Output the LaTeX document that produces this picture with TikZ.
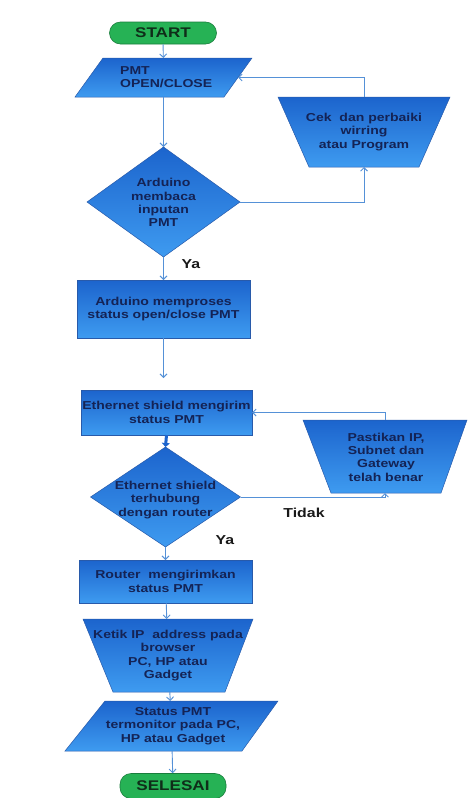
\documentclass[tikz,border=0pt]{standalone}
\usepackage{fontspec}
\setmainfont{Liberation Sans}[FakeStretch=1.22]
\usetikzlibrary{arrows.meta,backgrounds}
\definecolor{bdark}{RGB}{28,100,205}
\definecolor{blight}{RGB}{62,155,240}
\definecolor{bedge}{RGB}{40,90,170}
\definecolor{txtc}{RGB}{20,35,85}
\definecolor{linec}{RGB}{85,145,215}
\definecolor{gfill}{RGB}{38,178,85}
\definecolor{gedge}{RGB}{25,125,60}
\definecolor{gtext}{RGB}{15,45,25}
\begin{document}
\begin{tikzpicture}[x=1pt,y=-1pt,
  blk/.style={top color=bdark,bottom color=blight,draw=bedge,line width=0.5pt},
  bb/.style={rectangle,inner sep=0pt,outer sep=0pt,text=txtc,align=center,font=\fontsize{11.5}{13.3}\selectfont\bfseries},
  rectbox/.style={bb,blk},
  txt/.style={text=txtc,align=center,inner sep=0pt,font=\fontsize{11.5}{13.3}\selectfont\bfseries},
  pill/.style={rectangle,rounded corners=11pt,fill=gfill,draw=gedge,line width=0.6pt,text=gtext,font=\fontsize{14}{16}\selectfont\bfseries,inner sep=0pt},
  lbl/.style={text=black!90,inner sep=0pt,font=\fontsize{13}{15}\selectfont\bfseries},
  arr/.style={draw=linec,line width=0.9pt,-{Straight Barb[length=3.5pt,width=7pt]}},
]
\useasboundingbox (0,0) rectangle (467,798);
% shape frames
\node[pill,minimum width=107,minimum height=22] (start) at (163,33) {START};
\node[bb,minimum width=177,minimum height=39] (pmt) at (163.5,77.5) {};
\node[txt,align=left,anchor=west] (pmtt) at (120,77.5) {PMT\\OPEN/CLOSE};
\node[bb,minimum width=172,minimum height=70] (cek) at (364,132) {Cek\ \ dan perbaiki\\wirring\\atau Program};
\node[bb,minimum width=153,minimum height=110] (d1) at (163.5,202) {};
\node[txt] (d1t) at (163.5,202.5) {Arduino\\membaca\\inputan\\PMT};
\node[rectbox,minimum width=173,minimum height=58] (proc) at (163.5,309) {Arduino memproses\\status open/close PMT};
\coordinate (gap) at (163.5,378);
\node[rectbox,minimum width=171,minimum height=45] (eth) at (166.5,412.5) {Ethernet shield mengirim\\status PMT};
\node[bb,minimum width=164,minimum height=73] (pas) at (385,456.5) {};
\node[txt] (past) at (386,457) {Pastikan IP,\\Subnet dan\\Gateway\\telah benar};
\node[bb,minimum width=150,minimum height=100] (d2) at (165.5,497) {};
\node[txt] (d2t) at (165.5,500) {Ethernet shield\\terhubung\\dengan router};
\node[rectbox,minimum width=173,minimum height=43] (router) at (165.5,581.5) {Router\ \ mengirimkan\\status PMT};
\node[bb,minimum width=170,minimum height=73] (ketik) at (168,655.5) {Ketik IP\ \ address pada\\browser\\PC, HP atau\\Gadget};
\node[bb,minimum width=213,minimum height=50] (status) at (171.5,726) {};
\node[txt] (statust) at (173,726) {Status PMT\\termonitor pada PC,\\HP atau Gadget};
\node[pill,minimum width=106,minimum height=25] (selesai) at (173,786) {SELESAI};
% shape outlines behind the texts
\begin{scope}[on background layer]
\path[blk] ([xshift=28pt]pmt.north west) -- (pmt.north east) -- ([xshift=-28pt]pmt.south east) -- (pmt.south west) -- cycle;
\path[blk] (cek.north west) -- (cek.north east) -- ([xshift=-31pt]cek.south east) -- ([xshift=31pt]cek.south west) -- cycle;
\path[blk] (d1.north) -- (d1.east) -- (d1.south) -- (d1.west) -- cycle;
\path[blk] (pas.north west) -- (pas.north east) -- ([xshift=-26pt]pas.south east) -- ([xshift=28pt]pas.south west) -- cycle;
\path[blk] (d2.north) -- (d2.east) -- (d2.south) -- (d2.west) -- cycle;
\path[blk] (ketik.north west) -- (ketik.north east) -- ([xshift=-28pt]ketik.south east) -- ([xshift=30pt]ketik.south west) -- cycle;
\path[blk] ([xshift=40pt]status.north west) -- (status.north east) -- ([xshift=-36pt]status.south east) -- (status.south west) -- cycle;
\end{scope}
% connectors
\draw[arr] (start) -- (pmt);
\draw[arr] (pmt) -- (d1);
\draw[arr] (d1.east) -| (cek.south);
\draw[arr] (cek.north) |- ([xshift=-14pt]pmt.east);
\draw[arr] (d1) -- (proc);
\node[lbl] (ya1) at (191,264) {Ya};
\draw[arr] (proc.south) -- (gap);
\draw[arr] (pas.north) |- (eth.east);
\draw[draw=bdark,line width=3pt,-{Triangle[length=4pt,width=8pt]}] (eth.south) -- (d2.north);
\draw[arr] (d2.east) -| (pas.south);
\node[lbl] (tidak) at (304,513) {Tidak};
\draw[arr] (d2) -- (router);
\node[lbl] (ya2) at (225,540) {Ya};
\draw[arr] (router) -- (ketik);
\draw[arr] (ketik) -- (status);
\draw[arr] (status) -- (selesai);
\end{tikzpicture}
\end{document}
